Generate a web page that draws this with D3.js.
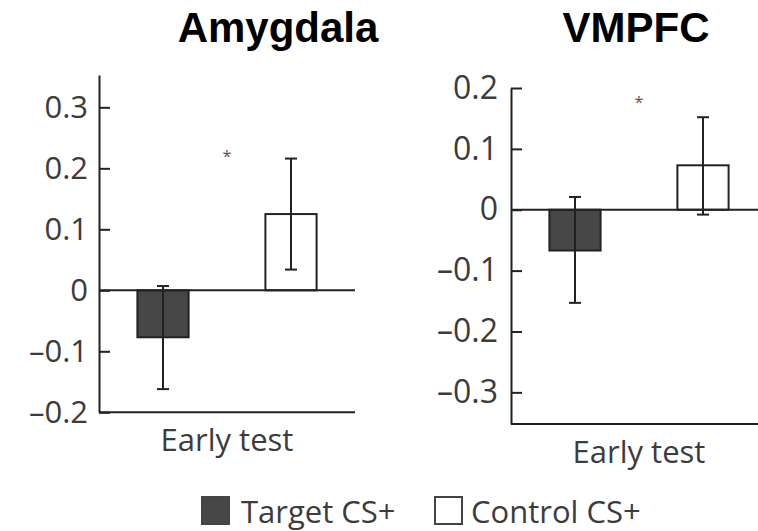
<!DOCTYPE html>
<html>
<head>
<meta charset="utf-8">
<script src="https://cdn.jsdelivr.net/npm/d3@7"></script>
<style>
  html, body { margin: 0; padding: 0; background: #fff; }
  svg { display: block; }
</style>
</head>
<body>
<svg id="chart" width="758" height="531"></svg>
<script>
// ---- Data ----
const categories = ["Target CS+", "Control CS+"];
const panelTitles = ["Amygdala", "VMPFC"];
const xCategoryLabel = "Early test";

const amygdalaMeans = [-0.077, 0.125];
const amygdalaLow   = [-0.162, 0.034];
const amygdalaHigh  = [0.007, 0.216];

const vmpfcMeans = [-0.067, 0.073];
const vmpfcLow   = [-0.153, -0.008];
const vmpfcHigh  = [0.021, 0.152];

const amygdalaTicks = [0.3, 0.2, 0.1, 0, -0.1, -0.2];
const vmpfcTicks    = [0.2, 0.1, 0, -0.1, -0.2, -0.3];
const amygdalaDomain = [-0.2, 0.353];
const vmpfcDomain    = [-0.352, 0.2];
const significanceY  = [0.225, 0.182];
const significanceMark = "*";

// ---- Styling / layout ----
const colors = { target: "#474747", control: "#ffffff", line: "#222", text: "#3c3c3c" };
const svg = d3.select("#chart");

const panels = [
  { title: panelTitles[0], means: amygdalaMeans, low: amygdalaLow, high: amygdalaHigh,
    ticks: amygdalaTicks, domain: amygdalaDomain, sig: significanceY[0],
    x0: 99, yTop: 75, yBottom: 412.3, width: 256, titleX: 278, fontSize: 31, labelPad: 11 },
  { title: panelTitles[1], means: vmpfcMeans, low: vmpfcLow, high: vmpfcHigh,
    ticks: vmpfcTicks, domain: vmpfcDomain, sig: significanceY[1],
    x0: 511, yTop: 88, yBottom: 424, width: 256, titleX: 636, fontSize: 32, labelPad: 13 }
];

const fmt = v => v === 0 ? "0" : (v < 0 ? "\u2013" + d3.format(".1f")(-v) : d3.format(".1f")(v));

panels.forEach(p => {
  const y = d3.scaleLinear().domain(p.domain).range([p.yBottom, p.yTop]);
  const x = d3.scaleBand().domain(categories).range([p.x0, p.x0 + p.width])
    .paddingInner(0.6).paddingOuter(0.3);
  const g = svg.append("g");

  // title
  svg.append("text")
    .attr("x", p.titleX).attr("y", 42)
    .attr("text-anchor", "middle")
    .attr("font-family", "Liberation Sans, Arial, sans-serif")
    .attr("font-weight", "bold").attr("font-size", 42)
    .attr("fill", "#000")
    .text(p.title);

  // y axis
  const axis = d3.axisLeft(y).tickValues(p.ticks).tickFormat(fmt)
    .tickSizeInner(-11).tickSizeOuter(0).tickPadding(p.labelPad);
  const ag = g.append("g").attr("transform", `translate(${p.x0},0)`).call(axis);
  ag.select(".domain").attr("stroke", colors.line).attr("stroke-width", 2);
  ag.selectAll(".tick line").attr("stroke", colors.line).attr("stroke-width", 2);
  ag.selectAll(".tick text")
    .attr("font-family", "Open Sans, sans-serif")
    .attr("font-size", p.fontSize).attr("fill", colors.text);

  // bottom axis line
  g.append("line")
    .attr("x1", p.x0).attr("x2", p.x0 + p.width)
    .attr("y1", y(p.domain[0])).attr("y2", y(p.domain[0]))
    .attr("stroke", colors.line).attr("stroke-width", 2);

  // bars
  g.selectAll("rect.bar").data(categories).enter().append("rect")
    .attr("class", "bar")
    .attr("x", d => x(d))
    .attr("width", x.bandwidth())
    .attr("y", (d, i) => y(Math.max(0, p.means[i])))
    .attr("height", (d, i) => Math.abs(y(p.means[i]) - y(0)))
    .attr("fill", (d, i) => i === 0 ? colors.target : colors.control)
    .attr("stroke", colors.line).attr("stroke-width", 2);

  // zero line
  g.append("line")
    .attr("x1", p.x0).attr("x2", p.x0 + p.width)
    .attr("y1", y(0)).attr("y2", y(0))
    .attr("stroke", colors.line).attr("stroke-width", 2);

  // error bars
  const capW = 6;
  categories.forEach((c, i) => {
    const cx = x(c) + x.bandwidth() / 2;
    g.append("line").attr("x1", cx).attr("x2", cx)
      .attr("y1", y(p.low[i])).attr("y2", y(p.high[i]))
      .attr("stroke", colors.line).attr("stroke-width", 2);
    [p.low[i], p.high[i]].forEach(v => {
      g.append("line").attr("x1", cx - capW).attr("x2", cx + capW)
        .attr("y1", y(v)).attr("y2", y(v))
        .attr("stroke", colors.line).attr("stroke-width", 2);
    });
  });

  // significance mark
  const mid = (x(categories[0]) + x(categories[1]) + x.bandwidth()) / 2;
  g.append("text")
    .attr("x", mid).attr("y", y(p.sig) + 9)
    .attr("text-anchor", "middle")
    .attr("font-family", "Open Sans, sans-serif")
    .attr("font-size", 16).attr("fill", "#555")
    .text(significanceMark);

  // category label
  g.append("text")
    .attr("x", mid).attr("y", p.yBottom + 39)
    .attr("text-anchor", "middle")
    .attr("font-family", "Open Sans, sans-serif")
    .attr("font-size", 31).attr("fill", colors.text)
    .text(xCategoryLabel);
});

// legend
const legendItems = [
  { label: categories[0], fill: colors.target, x: 202, tx: 241 },
  { label: categories[1], fill: colors.control, x: 435, tx: 471 }
];
const lg = svg.append("g");
legendItems.forEach(it => {
  lg.append("rect").attr("x", it.x).attr("y", 497).attr("width", 27).attr("height", 27)
    .attr("fill", it.fill).attr("stroke", "#444").attr("stroke-width", 2);
  lg.append("text").attr("x", it.tx).attr("y", 523)
    .attr("font-family", "Open Sans, sans-serif")
    .attr("font-size", 31).attr("fill", colors.text)
    .text(it.label);
});
</script>
</body>
</html>
